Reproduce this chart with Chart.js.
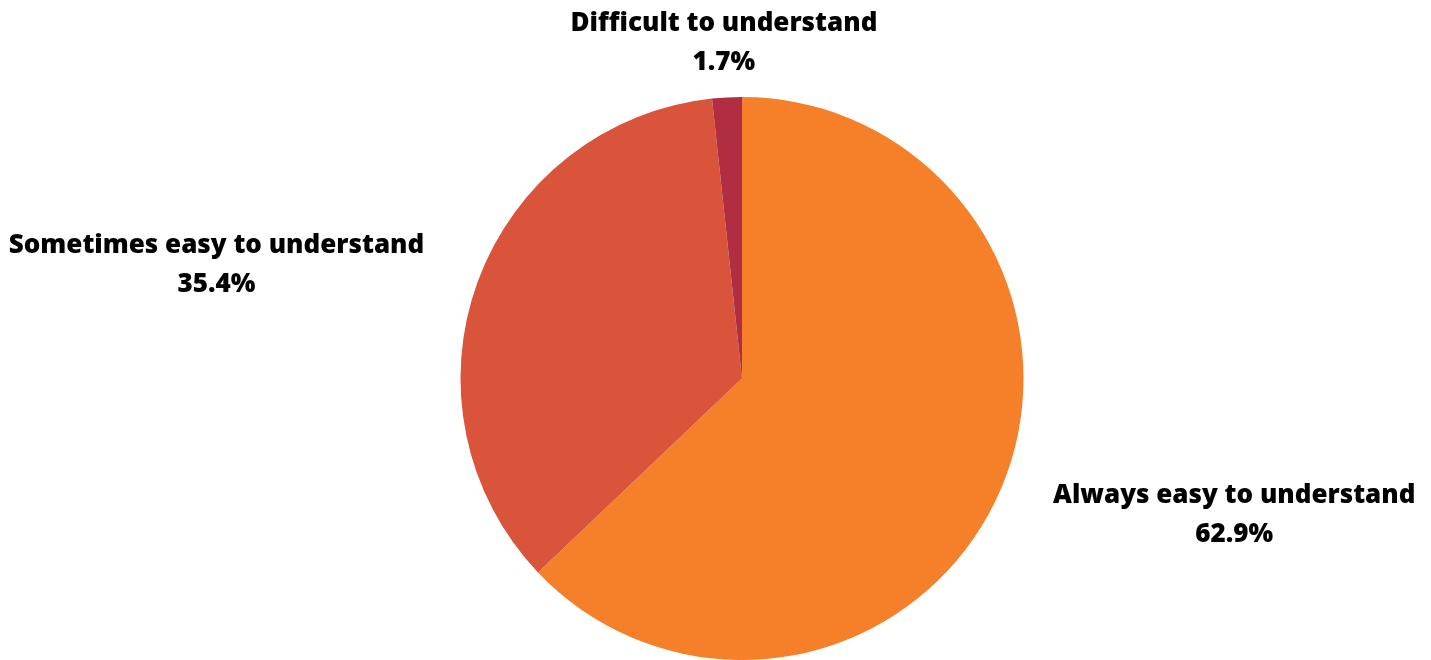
<!DOCTYPE html>
<html>
<head>
<meta charset="utf-8">
<script src="https://cdn.jsdelivr.net/npm/chart.js@4"></script>
<style>
html,body{margin:0;padding:0;background:#fff;}
#wrap{width:1431px;height:660px;position:relative;}
</style>
</head>
<body>
<div id="wrap"><canvas id="c" width="1431" height="660"></canvas></div>
<script>
const categories = ["Always easy to understand", "Sometimes easy to understand", "Difficult to understand"];
const values = [62.9, 35.4, 1.7];
const valueLabels = ["62.9%", "35.4%", "1.7%"];
const colors = ["#F6802A", "#D9543A", "#B12D41"];

const FONT = "800 26px 'Open Sans'";
const LINE_H = 39;
const GAP = 57;
const Y_SHIFT = 3;

const labelPlugin = {
  id: 'outerLabels',
  afterDatasetsDraw(chart) {
    const ctx = chart.ctx;
    const meta = chart.getDatasetMeta(0);
    ctx.save();
    ctx.font = FONT;
    ctx.fillStyle = '#000';
    ctx.textAlign = 'center';
    ctx.textBaseline = 'middle';
    meta.data.forEach((arc, i) => {
      const p = arc.getProps(['x','y','startAngle','endAngle','outerRadius'], true);
      const mid = (p.startAngle + p.endAngle) / 2;
      const R = p.outerRadius + GAP;
      const ax = p.x + Math.cos(mid) * R;
      const ay = p.y + Math.sin(mid) * R + Y_SHIFT;
      const lines = [categories[i], valueLabels[i]];
      const w = Math.max(...lines.map(l => ctx.measureText(l).width));
      let cx = ax;
      const c = Math.cos(mid);
      if (c > 0.3) cx = ax + w / 2;
      else if (c < -0.3) cx = ax - w / 2;
      const top = ay - LINE_H / 2;
      lines.forEach((l, k) => ctx.fillText(l, cx, top + k * LINE_H));
    });
    ctx.restore();
  }
};

new Chart(document.getElementById('c'), {
  type: 'pie',
  data: {
    labels: categories,
    datasets: [{
      data: values,
      backgroundColor: colors,
      borderWidth: 0
    }]
  },
  options: {
    responsive: false,
    animation: false,
    layout: { padding: { top: 97, bottom: 0, left: 53, right: 0 } },
    plugins: { legend: { display: false }, tooltip: { enabled: false } }
  },
  plugins: [labelPlugin]
});
</script>
</body>
</html>
